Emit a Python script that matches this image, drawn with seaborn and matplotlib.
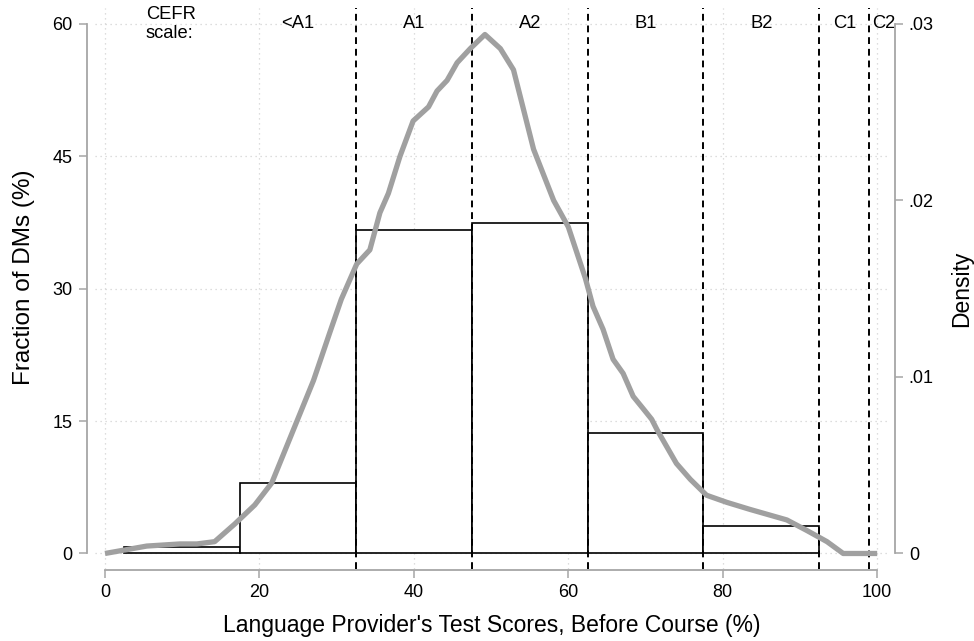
import numpy as np
import pandas as pd
import matplotlib
matplotlib.use("Agg")
import matplotlib.pyplot as plt
import seaborn as sns

# Histogram of pre-course scores (fraction of DMs, %)
bin_edges = [2.5, 17.5, 32.5, 47.5, 62.5, 77.5, 92.5]
bin_centers = [10, 25, 40, 55, 70, 85]
fractions = [0.7, 8.0, 36.6, 37.4, 13.7, 3.1]

# Kernel density of the same scores
dens_x = [0, 5.4, 9.7, 11.9, 14.2, 16.8, 19.4, 21.6, 24.3, 27.0, 29.1, 30.6,
          32.6, 34.3, 35.6, 36.7, 38.2, 39.9, 41.9, 43.0, 44.3, 45.6, 47.3,
          49.2, 51.2, 52.9, 55.5, 58.1, 60.0, 62.2, 63.2, 64.5, 65.8, 67.1,
          68.4, 69.7, 70.8, 71.5, 74.0, 75.8, 77.9, 80.5, 83.5, 88.3, 90.9,
          93.5, 95.6, 100]
dens_y = [0, 0.00042, 0.00054, 0.00054, 0.00067, 0.00167, 0.00275, 0.0040,
          0.0069, 0.0098, 0.0125, 0.0144, 0.0164, 0.0172, 0.0193, 0.0204,
          0.0225, 0.0245, 0.0253, 0.0262, 0.0268, 0.0278, 0.0286, 0.0294,
          0.0286, 0.0274, 0.0229, 0.0200, 0.0185, 0.0156, 0.0140, 0.0127,
          0.0110, 0.0102, 0.0089, 0.0082, 0.0076, 0.0070, 0.0051, 0.0042,
          0.0033, 0.0029, 0.0025, 0.0019, 0.0013, 0.00067, 0, 0]

# CEFR level cut-offs and labels
cefr_cuts = [32.5, 47.5, 62.5, 77.5, 92.5, 99]
cefr_pos = [8.5, 25, 40, 55, 70, 85, 95.75, 100.8]
cefr_labels = ["CEFR\nscale:", "<A1", "A1", "A2", "B1", "B2", "C1", "C2"]

sns.set_style("white")
plt.rcParams['font.family'] = ['Liberation Sans', 'DejaVu Sans']
plt.rcParams['text.color'] = 'black'
plt.rcParams['axes.labelcolor'] = 'black'
plt.rcParams['xtick.color'] = 'black'
plt.rcParams['ytick.color'] = 'black'

axis_grey = "#a6a6a6"
tick_fs = 13
label_fs = 16.5

fig = plt.figure(figsize=(9.74, 6.41), dpi=100)
ax = fig.add_axes([0.0975, 0.1123, 0.8142, 0.8752])

hist_df = pd.DataFrame({"score": bin_centers, "frac": fractions})
sns.histplot(data=hist_df, x="score", weights="frac", bins=bin_edges,
             stat="count", color="white", edgecolor="black", linewidth=1.2,
             alpha=1, ax=ax, zorder=2)

for c in cefr_cuts:
    ax.axvline(c, color="black", linestyle=(0, (3.5, 2.5)), linewidth=1.4, zorder=3)

ax.set_xlim(-1.3, 101.4)
ax.set_ylim(-1.76, 61.8)
ax.set_xticks([0, 20, 40, 60, 80, 100])
ax.set_yticks([0, 15, 30, 45, 60])
ax.grid(True, color="#d2d2d2", linestyle=(0, (1, 3)), linewidth=0.9, zorder=0)
ax.set_axisbelow(True)

for lab, xp in zip(cefr_labels, cefr_pos):
    ax.text(xp, 60, lab, ha="center", va="center", fontsize=13.2,
            multialignment="left", linespacing=1.1, clip_on=False, zorder=4)

ax.set_xlabel("Language Provider's Test Scores, Before Course (%)", fontsize=label_fs, labelpad=9)
ax.set_ylabel("Fraction of DMs (%)", fontsize=17.5, labelpad=12)
ax.yaxis.set_label_coords(-0.075, 0.52)

ax2 = ax.twinx()
sns.lineplot(x=dens_x, y=dens_y, ax=ax2, color="#a0a0a0", linewidth=3.8,
             solid_capstyle="butt", zorder=5)
ax2.set_ylim(-1.76 * 0.0005, 61.8 * 0.0005)
ax2.set_yticks([0, 0.01, 0.02, 0.03])
ax2.set_yticklabels(["0", ".01", ".02", ".03"])
ax2.set_ylabel("Density", fontsize=label_fs, labelpad=12)

for a in (ax, ax2):
    for s in a.spines.values():
        s.set_visible(False)

ax.spines["left"].set_visible(True)
ax.spines["left"].set_position(("outward", 6))
ax.spines["left"].set_bounds(0, 60)
ax.spines["bottom"].set_visible(True)
ax.spines["bottom"].set_position(("outward", 1))
ax.spines["bottom"].set_bounds(0, 100)
ax2.spines["right"].set_visible(True)
ax2.spines["right"].set_position(("outward", 5))
ax2.spines["right"].set_bounds(0, 0.03)
for s in (ax.spines["left"], ax.spines["bottom"], ax2.spines["right"]):
    s.set_color(axis_grey)
    s.set_linewidth(1.3)

ax.tick_params(axis="both", direction="out", length=6, width=1.1, color=axis_grey,
               labelcolor="black", labelsize=tick_fs, pad=4, left=True, bottom=True)
ax2.tick_params(axis="y", direction="out", length=6, width=1.1, color=axis_grey,
                labelcolor="black", labelsize=tick_fs, pad=4, right=True)

fig.savefig("out.png", dpi=100)
